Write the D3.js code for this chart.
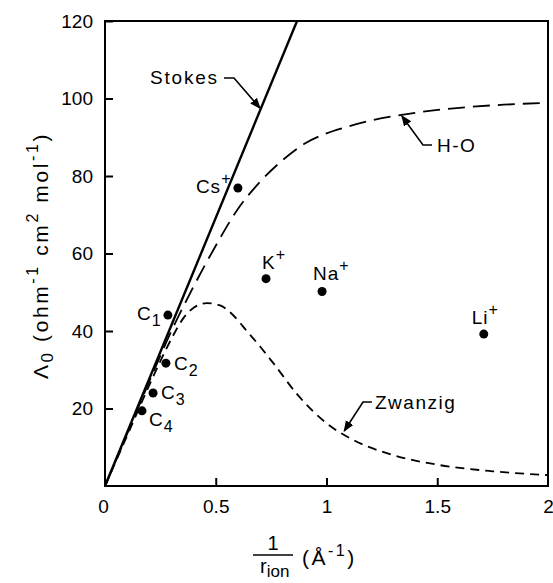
<!DOCTYPE html>
<html>
<head>
<meta charset="utf-8">
<script src="https://cdn.jsdelivr.net/npm/d3@7"></script>
<style>
  body { margin: 0; background: #fff; }
  text { font-family: "Liberation Sans", Arial, sans-serif; fill: #000; }
</style>
</head>
<body>
<div id="chart"></div>
<script>
// data
const xTicks = [0, 0.5, 1, 1.5, 2];
const xTickLabels = ["0", "0.5", "1", "1.5", "2"];
const yTicks = [0, 20, 40, 60, 80, 100, 120];

const stokesX = [0, 0.867];
const stokesY = [0, 120];

const hoX = [0, 0.1, 0.2, 0.3, 0.4, 0.5, 0.6, 0.7, 0.8, 0.9, 1.0, 1.1, 1.2, 1.4, 1.6, 1.8, 2.0];
const hoY = [0, 13.5, 27, 40, 51.5, 62, 71.5, 78.5, 84, 88.3, 91, 92.8, 94.3, 96.3, 97.6, 98.4, 98.9];

const zwX = [0, 0.1, 0.2, 0.3, 0.35, 0.4, 0.46, 0.52, 0.58, 0.64, 0.7, 0.76, 0.87, 1.0, 1.12, 1.3, 1.5, 1.75, 2.0];
const zwY = [0, 13, 26, 38, 43, 46, 47.2, 46.6, 44, 40, 36, 31.7, 23.5, 16.2, 11.9, 8, 5.5, 3.8, 2.8];

const ions = ["Cs", "K", "Na", "Li", "C", "C", "C", "C"];
const ionSub = ["", "", "", "", "1", "2", "3", "4"];
const ionSup = ["+", "+", "+", "+", "", "", "", ""];
const ionX = [0.60, 0.727, 0.98, 1.71, 0.284, 0.275, 0.217, 0.167];
const ionY = [76.9, 53.5, 50.2, 39.2, 44.1, 31.7, 24.0, 19.4];

const width = 553, height = 583;
const margin = { top: 21, right: 5, bottom: 97, left: 105 };

const svg = d3.select("#chart").append("svg")
  .attr("width", width)
  .attr("height", height);

const x = d3.scaleLinear().domain([0, 2]).range([margin.left, width - margin.right]);
const y = d3.scaleLinear().domain([0, 120]).range([height - margin.bottom, margin.top]);

// frame
svg.append("rect")
  .attr("x", x(0)).attr("y", y(120))
  .attr("width", x(2) - x(0)).attr("height", y(0) - y(120))
  .attr("fill", "none").attr("stroke", "#000").attr("stroke-width", 2);

// axes with inward ticks
const xAxis = svg.append("g")
  .attr("transform", `translate(0,${y(0)})`)
  .call(d3.axisBottom(x).tickValues(xTicks).tickSizeInner(-8).tickSizeOuter(0)
    .tickPadding(14).tickFormat((d, i) => xTickLabels[i]));
xAxis.select(".domain").remove();
xAxis.selectAll("line").attr("stroke-width", 2);
xAxis.selectAll("text").attr("font-size", 19).style("font-family", "Liberation Sans, Arial, sans-serif");

const yAxis = svg.append("g")
  .attr("transform", `translate(${x(0)},0)`)
  .call(d3.axisLeft(y).tickValues(yTicks).tickSizeInner(-8).tickSizeOuter(0).tickPadding(12));
yAxis.select(".domain").remove();
yAxis.selectAll("line").attr("stroke-width", 2);
yAxis.selectAll("text").attr("font-size", 19).style("font-family", "Liberation Sans, Arial, sans-serif");
yAxis.selectAll(".tick").filter(d => d === 0).remove();
xAxis.selectAll(".tick").filter(d => d === 2 || d === 0).select("line").remove();
xAxis.selectAll(".tick").filter(d => d === 0).select("text").attr("dx", -2);

const plot = svg.append("g");
plot.append("clipPath").attr("id", "clip")
  .append("rect").attr("x", x(0)).attr("y", y(120))
  .attr("width", x(2) - x(0)).attr("height", y(0) - y(120));

const line = d3.line().x(d => x(d[0])).y(d => y(d[1]));

plot.append("path")
  .attr("d", line(stokesX.map((v, i) => [v, stokesY[i]])))
  .attr("fill", "none").attr("stroke", "#000").attr("stroke-width", 2.4)
  .attr("clip-path", "url(#clip)");

const curve = d3.line().x(d => x(d[0])).y(d => y(d[1])).curve(d3.curveMonotoneX);

plot.append("path")
  .attr("d", curve(hoX.map((v, i) => [v, hoY[i]])))
  .attr("fill", "none").attr("stroke", "#000").attr("stroke-width", 1.8)
  .attr("stroke-dasharray", "17,8")
  .attr("clip-path", "url(#clip)");

plot.append("path")
  .attr("d", curve(zwX.map((v, i) => [v, zwY[i]])))
  .attr("fill", "none").attr("stroke", "#000").attr("stroke-width", 1.8)
  .attr("stroke-dasharray", "9,6")
  .attr("clip-path", "url(#clip)");

// ion points
plot.selectAll("circle.ion")
  .data(ions.map((n, i) => ({ x: ionX[i], y: ionY[i] })))
  .enter().append("circle")
  .attr("class", "ion")
  .attr("cx", d => x(d.x)).attr("cy", d => y(d.y)).attr("r", 4.5)
  .attr("fill", "#000");

// label offsets relative to each dot (px)
const labelDx = [-42, -4, -9, -12, -31, 8, 8, 7];
const labelDy = [5, -10, -11, -10, 5, 7, 6, 15];
ions.forEach((n, i) => {
  const t = svg.append("text")
    .attr("x", x(ionX[i]) + labelDx[i])
    .attr("y", y(ionY[i]) + labelDy[i])
    .attr("font-size", 19)
    .attr("letter-spacing", 1)
    .text(n);
  if (ionSup[i]) t.append("tspan").attr("dy", -9).attr("font-size", 16).text(ionSup[i]);
  if (ionSub[i]) t.append("tspan").attr("dy", 6).attr("font-size", 16).text(ionSub[i]);
});

// arrowhead marker
svg.append("defs").append("marker")
  .attr("id", "arrow").attr("viewBox", "0 0 10 10")
  .attr("refX", 9).attr("refY", 5)
  .attr("markerWidth", 11).attr("markerHeight", 11)
  .attr("markerUnits", "userSpaceOnUse")
  .attr("orient", "auto")
  .append("path").attr("d", "M0,1 L10,5 L0,9 Z").attr("fill", "#000");

// callouts: label, anchor point on curve (data units)
function callout(label, lx, ly, spacing, ax, ay, pts) {
  svg.append("path")
    .attr("d", d3.line()(pts.concat([[x(ax), y(ay)]])))
    .attr("fill", "none").attr("stroke", "#000").attr("stroke-width", 1.6)
    .attr("marker-end", "url(#arrow)");
  svg.append("text").attr("x", lx).attr("y", ly).attr("font-size", 19)
    .attr("letter-spacing", spacing).text(label);
}
callout("Stokes", 150, 84, 1.8, 0.70, 97.5, [[224, 78], [234, 78]]);
callout("H-O", 437, 152, 1.5, 1.34, 95.5, [[432, 145], [423, 145]]);
callout("Zwanzig", 375, 409, 1.5, 1.08, 14.2, [[372, 402], [363, 402]]);

// y axis title
const yt = svg.append("text")
  .attr("transform", `translate(48,${(y(0) + y(120)) / 2 + 2}) rotate(-90)`)
  .attr("text-anchor", "middle")
  .attr("font-size", 21)
  .attr("letter-spacing", 2.6);
yt.append("tspan").text("\u039B");
yt.append("tspan").attr("dy", 5).attr("font-size", 17).text("0");
yt.append("tspan").attr("dy", -5).text(" (ohm");
yt.append("tspan").attr("dy", -10).attr("font-size", 16).text("-1");
yt.append("tspan").attr("dy", 10).text(" cm");
yt.append("tspan").attr("dy", -10).attr("font-size", 16).text("2");
yt.append("tspan").attr("dy", 10).text(" mol");
yt.append("tspan").attr("dy", -10).attr("font-size", 16).text("-1");
yt.append("tspan").attr("dy", 10).text(")");

// x axis title: fraction 1 / r_ion (Å^-1)
const fx = 273, fy = 555;
svg.append("text").attr("x", fx).attr("y", fy - 5).attr("text-anchor", "middle")
  .attr("font-size", 20).text("1");
svg.append("line").attr("x1", fx - 20).attr("x2", fx + 20)
  .attr("y1", fy).attr("y2", fy).attr("stroke", "#000").attr("stroke-width", 1.6);
const rt = svg.append("text").attr("x", fx - 13).attr("y", fy + 18).attr("font-size", 20);
rt.append("tspan").text("r");
rt.append("tspan").attr("dy", 4).attr("font-size", 17).text("ion");
const at = svg.append("text").attr("x", fx + 29).attr("y", fy + 10).attr("font-size", 21)
  .attr("letter-spacing", 2.5);
at.append("tspan").text("(\u00C5");
at.append("tspan").attr("dy", -9).attr("font-size", 16).text("-1");
at.append("tspan").attr("dy", 9).text(")");
</script>
</body>
</html>
